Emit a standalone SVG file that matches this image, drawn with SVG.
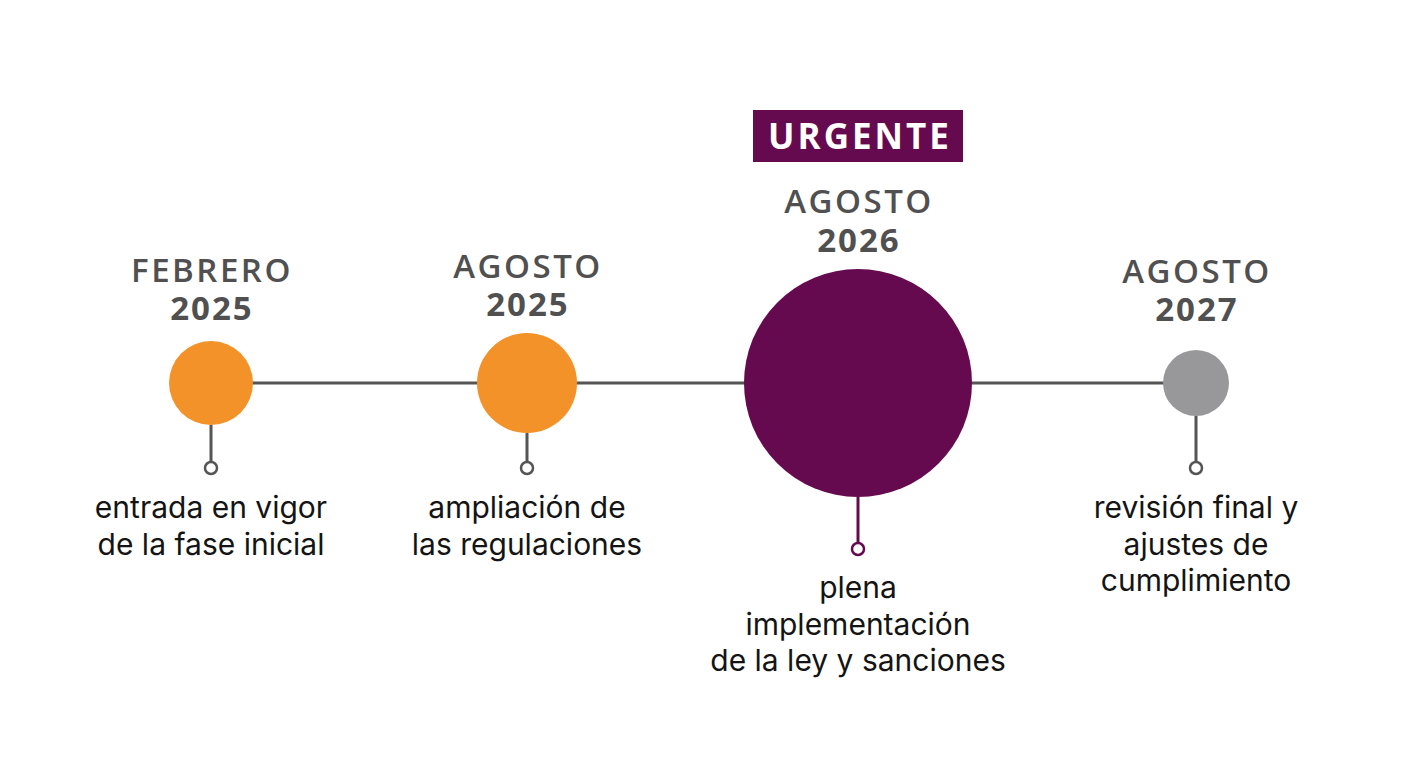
<svg xmlns="http://www.w3.org/2000/svg" width="1408" height="768" viewBox="0 0 1408 768">
<style>
.hd{font-family:"Open Sans","Liberation Sans",sans-serif;font-size:33px;font-weight:600;letter-spacing:2.5px;fill:#505050;text-anchor:middle}
.yr{font-family:"Open Sans","Liberation Sans",sans-serif;font-size:33px;font-weight:700;letter-spacing:2px;fill:#505050;text-anchor:middle}
.ds{font-family:Inter,"Liberation Sans",sans-serif;font-size:30px;fill:#141414;text-anchor:middle}
.st{stroke:#555;stroke-width:3;fill:none}
.dot{stroke:#555;stroke-width:2.5;fill:#fff}
</style>
<rect width="1408" height="768" fill="#fff"/>
<g id="connectors">
<line class="st" x1="252" y1="383" x2="1166" y2="383"/>
<line class="st" x1="211" y1="425" x2="211" y2="462"/>
<line class="st" x1="527" y1="433" x2="527" y2="462"/>
<line class="st" x1="858" y1="497" x2="858" y2="543" style="stroke:#660A4F"/>
<line class="st" x1="1196" y1="416" x2="1196" y2="462"/>
</g>
<g id="node1">
<text class="hd" x="212" y="282">FEBRERO</text>
<text class="yr" x="212" y="320">2025</text>
<circle cx="211" cy="383" r="42" fill="#F29229"/>
<circle class="dot" cx="211" cy="468" r="6"/>
<text class="ds" x="211" y="518">entrada en vigor</text>
<text class="ds" x="211" y="555">de la fase inicial</text>
</g>
<g id="node2">
<text class="hd" x="528" y="278">AGOSTO</text>
<text class="yr" x="528" y="316">2025</text>
<circle cx="527" cy="383" r="50" fill="#F29229"/>
<circle class="dot" cx="527" cy="468" r="6"/>
<text class="ds" x="527" y="518">ampliación de</text>
<text class="ds" x="527" y="555">las regulaciones</text>
</g>
<g id="node3">
<rect x="753" y="110" width="210" height="52" fill="#660A4F"/>
<text x="860" y="149" style="font-family:'Open Sans','Liberation Sans',sans-serif;font-size:35px;font-weight:700;letter-spacing:3px;fill:#fff;text-anchor:middle">URGENTE</text>
<text class="hd" x="859" y="213">AGOSTO</text>
<text class="yr" x="859" y="252">2026</text>
<circle cx="858" cy="383" r="114" fill="#660A4F"/>
<circle class="dot" cx="858" cy="549" r="6" style="stroke:#660A4F"/>
<text class="ds" x="858" y="598">plena</text>
<text class="ds" x="858" y="635">implementación</text>
<text class="ds" x="858" y="671">de la ley y sanciones</text>
</g>
<g id="node4">
<text class="hd" x="1197" y="283">AGOSTO</text>
<text class="yr" x="1197" y="321">2027</text>
<circle cx="1196" cy="383" r="33" fill="#98989A"/>
<circle class="dot" cx="1196" cy="468" r="6"/>
<text class="ds" x="1196" y="518">revisión final y</text>
<text class="ds" x="1196" y="555">ajustes de</text>
<text class="ds" x="1196" y="591">cumplimiento</text>
</g>
</svg>
